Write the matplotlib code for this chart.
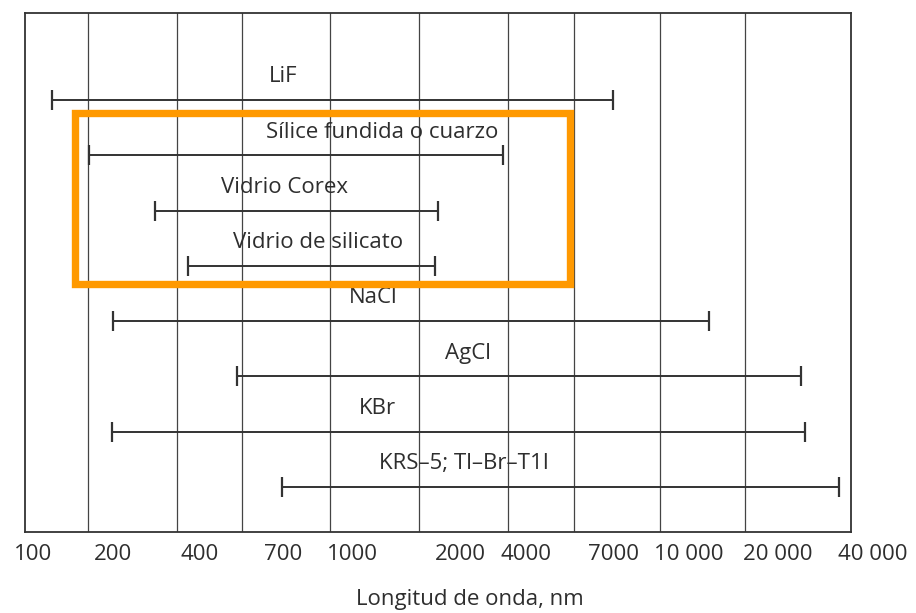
import numpy as np
import matplotlib
matplotlib.use("Agg")
import matplotlib.pyplot as plt
from matplotlib.patches import Rectangle
import matplotlib.transforms as mtransforms

plt.rcParams['font.family'] = ['Open Sans', 'DejaVu Sans']

# ---------------- data ----------------
materials = ["LiF", "Sílice fundida o cuarzo", "Vidrio Corex", "Vidrio de silicato",
             "NaCl", "AgCl", "KBr", "KRS–5; Tl–Br–T1I"]
range_start_nm = [118, 162, 280, 363, 200, 514, 199, 697]
range_end_nm = [7000, 3140, 1740, 1700, 11700, 23600, 24300, 31200]
label_x_nm = [700, 1212, 705, 839, 1144, 2170, 1181, 2085]

tick_values = [100, 200, 400, 700, 1000, 2000, 4000, 7000, 10000, 20000, 40000]
tick_labels = ["100", "200", "400", "700", "1000", "2000", "4000", "7000",
               "10 000", "20 000", "40 000"]
grid_values = [161, 333, 531, 892, 1537, 3310, 5450, 8730, 15470]
highlight_rows = [1, 3]
highlight_x_nm = [144, 5320]

# ---------------- printed (non-uniform) wavelength scale ----------------
scale_pos = np.array([33, 113, 200, 283, 352, 460, 526, 613, 689, 778, 873], float)
lv = np.log10(np.array(tick_values, float))


def fwd(v):
    l = np.log10(np.clip(np.asarray(v, float), 1e-9, None))
    out = np.interp(l, lv, scale_pos)
    s0 = (scale_pos[1] - scale_pos[0]) / (lv[1] - lv[0])
    s1 = (scale_pos[-1] - scale_pos[-2]) / (lv[-1] - lv[-2])
    out = np.where(l < lv[0], scale_pos[0] + (l - lv[0]) * s0, out)
    out = np.where(l > lv[-1], scale_pos[-1] + (l - lv[-1]) * s1, out)
    return out


def inv(p):
    p = np.asarray(p, float)
    l = np.interp(p, scale_pos, lv)
    s0 = (lv[1] - lv[0]) / (scale_pos[1] - scale_pos[0])
    s1 = (lv[-1] - lv[-2]) / (scale_pos[-1] - scale_pos[-2])
    l = np.where(p < scale_pos[0], lv[0] + (p - scale_pos[0]) * s0, l)
    l = np.where(p > scale_pos[-1], lv[-1] + (p - scale_pos[-1]) * s1, l)
    return 10 ** l


# ---------------- figure ----------------
W, H = 916, 613
fig = plt.figure(figsize=(W / 100, H / 100), dpi=100)
ax = fig.add_axes([25 / W, 1 - 532 / H, (851 - 25) / W, (532 - 13) / H])
ax.set_xscale('function', functions=(fwd, inv))
ax.set_xlim(float(inv(25)), float(inv(851)))

row_px0, row_dy = 100, 55.3
ax.set_ylim(7 + (532 - 487) / row_dy, -(row_px0 - 13) / row_dy)

ink = "#333333"
txt = "#2e2e2e"
fs = 16
for s in ax.spines.values():
    s.set_color(ink)
    s.set_linewidth(1.3)
ax.set_xticks([])
ax.set_yticks([])
ax.minorticks_off()

for g in grid_values:
    ax.axvline(g, color="#444444", lw=0.9, zorder=1)

for i, (name, a, b, lx) in enumerate(zip(materials, range_start_nm, range_end_nm, label_x_nm)):
    ax.plot([a, b], [i, i], color=ink, lw=1.4, marker='|', ms=15, mew=1.6,
            solid_capstyle='butt', zorder=3)
    ax.text(lx, i - 0.42, name, ha='center', va='center', fontsize=fs,
            color=txt, zorder=4)

# tick labels (the last one sits beyond the frame, as printed)
trans = mtransforms.blended_transform_factory(ax.transData, ax.transAxes)
for v, t in zip(tick_values, tick_labels):
    ax.text(v, -0.043, t, transform=trans, ha='center', va='center',
            fontsize=fs, color=txt, clip_on=False)

fig.text(470 / W, 1 - 599 / H, "Longitud de onda, nm", ha='center', va='center',
         fontsize=fs, color=txt)

# highlight box
r0, r1 = highlight_rows
ax.add_patch(Rectangle((highlight_x_nm[0], r0 - 0.756),
                       highlight_x_nm[1] - highlight_x_nm[0],
                       (r1 + 0.33) - (r0 - 0.756),
                       fill=False, edgecolor="#FF9900", lw=5.3, zorder=5,
                       clip_on=False))

fig.savefig("out.png", dpi=100)
